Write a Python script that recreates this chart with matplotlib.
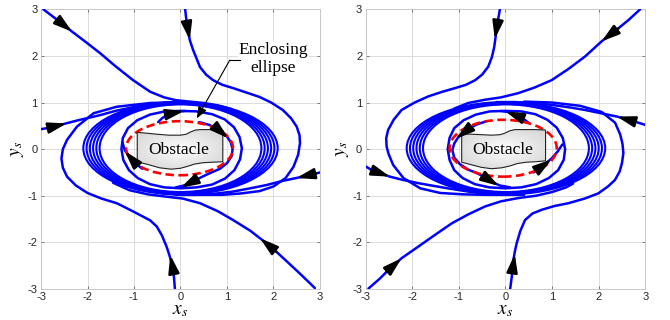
import numpy as np
import matplotlib
matplotlib.use('Agg')
import matplotlib.pyplot as plt
from matplotlib.patches import Ellipse, Polygon, FancyArrowPatch

plt.rcParams['font.family'] = ['Liberation Sans', 'DejaVu Sans']
plt.rcParams['mathtext.fontset'] = 'stix'
plt.rcParams['axes.unicode_minus'] = False

# ---------------- data ----------------
ticks = [-3, -2, -1, 0, 1, 2, 3]
tick_labels = ['-3', '-2', '-1', '0', '1', '2', '3']

# ---- left panel (clockwise flow) ----
left_A = [(-2.95, 3.0), (-2.62, 2.75), (-2.33, 2.52), (-2.0, 2.27), (-1.73, 2.06), (-1.4, 1.78),
          (-1.02, 1.48), (-0.65, 1.23), (-0.35, 1.11), (-0.1, 1.05), (0.2, 1.02), (0.5, 0.99),
          (0.8, 0.94), (1.1, 0.86)]
left_B = [(0.1, 3.0), (0.13, 2.74), (0.2, 2.34), (0.27, 2.13), (0.42, 1.76), (0.55, 1.6), (0.7, 1.48),
          (0.9, 1.38), (1.13, 1.31), (1.4, 1.22), (1.7, 1.12), (1.95, 1.0), (2.2, 0.84), (2.38, 0.66),
          (2.5, 0.48), (2.56, 0.3), (2.57, 0.13), (2.53, -0.12), (2.43, -0.38), (2.26, -0.62),
          (2.0, -0.8), (1.7, -0.9), (1.3, -0.95), (0.9, -0.98), (0.5, -0.98), (0.0, -0.98), (-0.4, -0.95)]
left_C = [(-0.12, -3.0), (-0.15, -2.63), (-0.19, -2.45), (-0.24, -2.27), (-0.3, -2.09), (-0.4, -1.85),
          (-0.51, -1.66), (-0.65, -1.53), (-0.8, -1.45), (-1.05, -1.32), (-1.37, -1.16), (-1.7, -1.06),
          (-2.0, -0.94), (-2.25, -0.78), (-2.44, -0.59), (-2.53, -0.4), (-2.56, -0.2), (-2.53, 0.0),
          (-2.44, 0.2), (-2.23, 0.48), (-1.87, 0.77), (-1.37, 0.91), (-0.65, 0.99), (0.0, 1.01)]
left_D = [(2.89, -2.98), (2.6, -2.7), (2.3, -2.42), (2.06, -2.2), (1.85, -2.02), (1.5, -1.75),
          (1.13, -1.52), (0.8, -1.33), (0.42, -1.16), (0.05, -1.06), (-0.3, -1.02), (-0.7, -0.97),
          (-1.1, -0.88), (-1.45, -0.72)]
left_E = [(-3.0, 0.43), (-2.87, 0.45), (-2.59, 0.52), (-2.2, 0.62), (-1.73, 0.73), (-1.4, 0.82),
          (-1.02, 0.9), (-0.6, 0.97), (-0.3, 1.0), (0.1, 1.01)]
left_F = [(3.0, -0.5), (2.92, -0.52), (2.63, -0.59), (2.2, -0.68), (1.85, -0.77), (1.5, -0.84),
          (1.13, -0.91), (0.7, -0.96), (0.3, -0.98), (-0.1, -0.98)]
left_I1 = [(-0.48, 0.58), (-0.4, 0.66), (-0.28, 0.74), (-0.1, 0.8), (0.1, 0.82)]
left_I2 = [(0.4, 0.58), (0.62, 0.52), (0.82, 0.42), (0.98, 0.3), (1.08, 0.15), (1.12, 0.0),
           (1.1, -0.15), (1.0, -0.3), (0.85, -0.42), (0.62, -0.52), (0.45, -0.6), (0.3, -0.68),
           (0.12, -0.77), (-0.1, -0.82)]
left_I4 = [(-0.82, -0.42), (-0.98, -0.3), (-1.1, -0.16), (-1.2, -0.02), (-1.25, 0.15)]
left_ring = [(0.0, 0.82), (0.35, 0.81), (0.68, 0.75), (0.95, 0.64), (1.15, 0.47), (1.27, 0.26),
             (1.32, 0.02), (1.28, -0.22), (1.16, -0.45), (0.96, -0.63), (0.68, -0.76), (0.35, -0.82),
             (0.0, -0.84), (-0.35, -0.82), (-0.66, -0.75), (-0.92, -0.62), (-1.11, -0.45),
             (-1.23, -0.23), (-1.27, 0.0), (-1.24, 0.24), (-1.13, 0.45), (-0.93, 0.62),
             (-0.66, 0.74), (-0.34, 0.81), (0.0, 0.82)]
left_bundle_w = [3.48, 3.62, 3.76, 3.90, 4.04, 4.18]
left_bundle_h = [1.88, 1.90, 1.92, 1.94, 1.96, 1.98]
left_bundle_c = (0.0, 0.02)
left_ell = (-0.02, 0.02, 2.3, 1.16)
left_obstacle = [(-0.93, 0.36), (-0.7, 0.34), (-0.5, 0.32), (-0.25, 0.30), (0.0, 0.30), (0.12, 0.32),
                 (0.22, 0.37), (0.32, 0.41), (0.45, 0.42), (0.7, 0.42), (0.91, 0.41),
                 (0.91, -0.27), (0.7, -0.28), (0.5, -0.29), (0.3, -0.32), (0.15, -0.37), (0.0, -0.41),
                 (-0.2, -0.43), (-0.45, -0.4), (-0.7, -0.33), (-0.93, -0.27)]
left_text = (-0.03, -0.02)
left_arrows = [((-2.62, 2.75), (-2.33, 2.52)), ((0.13, 2.74), (0.2, 2.34)),
               ((-2.87, 0.45), (-2.45, 0.55)), ((2.92, -0.52), (2.49, -0.62)),
               ((2.06, -2.2), (1.71, -1.91)), ((-0.15, -2.63), (-0.22, -2.27)),
               ((-0.28, 0.75), (0.08, 0.82)), ((0.78, 0.45), (1.03, 0.23)),
               ((-0.98, -0.29), (-1.2, -0.04)), ((0.38, -0.63), (0.0, -0.83))]

# ---- right panel (counter-clockwise flow) ----
right_G = [(-0.12, 3.0), (-0.16, 2.77), (-0.2, 2.5), (-0.24, 2.2), (-0.29, 1.98), (-0.37, 1.77),
           (-0.5, 1.6), (-0.65, 1.48), (-0.85, 1.38), (-1.08, 1.31), (-1.36, 1.23), (-1.66, 1.13),
           (-1.95, 1.0), (-2.23, 0.84), (-2.4, 0.63), (-2.52, 0.41), (-2.56, 0.23), (-2.55, 0.05),
           (-2.51, -0.1), (-2.41, -0.34), (-2.19, -0.62), (-1.83, -0.84), (-1.4, -0.94), (-0.9, -0.97),
           (-0.4, -0.98), (0.0, -0.98), (0.4, -0.96)]
right_H = [(2.89, 3.0), (2.64, 2.77), (2.42, 2.59), (2.06, 2.31), (1.71, 1.99), (1.35, 1.72),
           (0.99, 1.48), (0.62, 1.32), (0.27, 1.2), (-0.1, 1.11), (-0.44, 1.06), (-0.8, 0.99),
           (-1.1, 0.87)]
right_I = [(3.0, 0.52), (2.78, 0.59), (2.39, 0.7), (2.05, 0.77), (1.71, 0.84), (1.35, 0.9),
           (0.99, 0.95), (0.6, 0.99), (0.2, 1.01), (-0.2, 1.01)]
right_J = [(0.1, -3.0), (0.14, -2.7), (0.17, -2.38), (0.2, -2.2), (0.24, -2.02), (0.32, -1.75),
           (0.42, -1.52), (0.58, -1.38), (0.78, -1.3), (1.05, -1.22), (1.35, -1.16), (1.7, -1.06),
           (1.99, -0.95), (2.2, -0.8), (2.35, -0.66), (2.45, -0.48), (2.5, -0.3), (2.53, -0.08),
           (2.51, 0.12), (2.46, 0.32), (2.35, 0.57), (2.06, 0.8), (1.6, 0.93), (1.0, 1.0), (0.4, 1.02)]
right_K = [(-2.94, -2.99), (-2.7, -2.78), (-2.55, -2.63), (-2.23, -2.34), (-1.87, -2.09), (-1.5, -1.83),
           (-1.15, -1.59), (-0.8, -1.4), (-0.44, -1.23), (-0.1, -1.12), (0.27, -1.05), (0.65, -1.0),
           (1.0, -0.92), (1.3, -0.82), (1.45, -0.74)]
right_L = [(-3.0, -0.37), (-2.87, -0.45), (-2.48, -0.59), (-2.2, -0.66), (-1.87, -0.73), (-1.3, -0.83),
           (-0.8, -0.91), (-0.4, -0.96), (0.0, -0.98), (0.4, -0.98)]
right_I1 = [(0.5, 0.56), (0.4, 0.64), (0.28, 0.72), (0.1, 0.79), (-0.1, 0.82)]
right_I2 = [(-0.4, 0.6), (-0.62, 0.53), (-0.83, 0.41), (-1.0, 0.28), (-1.1, 0.12), (-1.14, -0.02),
            (-1.1, -0.18), (-0.98, -0.32), (-0.8, -0.44), (-0.6, -0.52), (-0.45, -0.6), (-0.3, -0.7),
            (-0.12, -0.78), (0.1, -0.82)]
right_I4 = [(0.6, -0.5), (0.8, -0.36), (0.99, -0.2), (1.12, -0.05), (1.22, 0.1)]
right_ring = [(0.0, 0.82), (0.34, 0.81), (0.64, 0.75), (0.9, 0.63), (1.1, 0.46), (1.23, 0.24),
              (1.28, 0.0), (1.25, -0.23), (1.13, -0.45), (0.93, -0.62), (0.66, -0.75), (0.34, -0.82),
              (0.0, -0.84), (-0.35, -0.82), (-0.66, -0.75), (-0.92, -0.62), (-1.1, -0.45),
              (-1.2, -0.23), (-1.24, 0.0), (-1.2, 0.24), (-1.1, 0.45), (-0.9, 0.62), (-0.64, 0.74),
              (-0.34, 0.81), (0.0, 0.82)]
right_bundle_w = [3.56, 3.70, 3.84, 3.98, 4.12, 4.26]
right_bundle_h = [1.88, 1.90, 1.92, 1.94, 1.96, 1.98]
right_bundle_c = (0.01, 0.02)
right_ell = (-0.05, 0.02, 2.3, 1.22)
right_obstacle = [(-0.94, 0.33), (-0.72, 0.32), (-0.5, 0.31), (-0.3, 0.30), (-0.12, 0.31), (-0.02, 0.34),
                  (0.08, 0.39), (0.2, 0.42), (0.4, 0.42), (0.65, 0.42), (0.86, 0.41),
                  (0.86, -0.25), (0.65, -0.27), (0.45, -0.28), (0.25, -0.31), (0.1, -0.36), (-0.08, -0.4),
                  (-0.3, -0.42), (-0.52, -0.39), (-0.75, -0.33), (-0.94, -0.28)]
right_text = (-0.07, -0.02)
right_arrows = [((-0.16, 2.77), (-0.23, 2.36)), ((2.42, 2.59), (2.06, 2.31)),
                ((2.78, 0.59), (2.39, 0.7)), ((0.38, 0.66), (0.0, 0.81)),
                ((-0.8, 0.43), (-1.06, 0.22)), ((-0.48, -0.58), (-0.14, -0.79)),
                ((0.67, -0.45), (0.99, -0.22)), ((-2.87, -0.45), (-2.48, -0.59)),
                ((-2.55, -2.63), (-2.23, -2.34)), ((0.15, -2.6), (0.2, -2.25))]

callout_text = 'Enclosing\nellipse'
callout_text_xy = (2.0, 1.93)
callout_line = [(1.28, 1.91), (1.06, 1.91)]
callout_tip = (0.35, 0.66)

BLUE = '#0000ff'
LW = 1.8
LW_RING = 1.5


def draw_panel(ax, curves, ring, bw, bh, bc, ell, obstacle, text_xy, arrows):
    for pts in curves + [ring]:
        xs = [p[0] for p in pts]
        ys = [p[1] for p in pts]
        ax.plot(xs, ys, color=BLUE, lw=LW, solid_joinstyle='round', solid_capstyle='round', zorder=3)
    for w, h in zip(bw, bh):
        ax.add_patch(Ellipse(bc, w, h, fill=False, ec=BLUE, lw=LW_RING, zorder=3))
    # obstacle with gradient
    poly = Polygon(obstacle, closed=True, fc='none', ec='#222222', lw=0.8, zorder=6)
    ax.add_patch(poly)
    oxs = [p[0] for p in obstacle]
    oys = [p[1] for p in obstacle]
    gx, gy = np.meshgrid(np.linspace(-1, 1, 80), np.linspace(-1, 1, 80))
    r = np.sqrt(0.9 * gx ** 2 + gy ** 2)
    img = 0.995 - 0.17 * np.clip(r, 0, 1.35) / 1.35
    im = ax.imshow(img, cmap='gray', vmin=0, vmax=1, origin='lower', aspect='auto',
                   extent=(min(oxs), max(oxs), min(oys), max(oys)), interpolation='bilinear', zorder=5)
    im.set_clip_path(poly)
    ax.text(text_xy[0], text_xy[1], 'Obstacle', family='Liberation Serif', fontsize=12.5,
            ha='center', va='center', zorder=7)
    # enclosing ellipse
    ax.add_patch(Ellipse((ell[0], ell[1]), ell[2], ell[3], fill=False, ec='#ff0000', lw=1.9,
                         ls=(0, (3.2, 1.7)), zorder=4))
    for tail, tip in arrows:
        ax.add_patch(FancyArrowPatch(tail, tip, arrowstyle='-|>,head_length=0.6,head_width=0.18',
                                     mutation_scale=18, color='k', lw=1.8, shrinkA=0, shrinkB=0,
                                     zorder=8))
    ax.set_xlim(-3, 3)
    ax.set_ylim(-3, 3)
    ax.set_xticks(ticks)
    ax.set_xticklabels(tick_labels)
    ax.set_yticks(ticks)
    ax.set_yticklabels(tick_labels)
    ax.grid(True, color='#dcdcdc', lw=0.7)
    ax.set_axisbelow(True)
    for s in ax.spines.values():
        s.set_color('#c8c8c8')
        s.set_linewidth(0.7)
    ax.tick_params(direction='in', length=2.5, width=0.6, color='#666666', labelsize=8,
                   labelcolor='#262626', pad=2.5, top=True, right=True)
    ax.set_xlabel(r'$x_s$', fontsize=14, labelpad=0)
    ax.set_ylabel(r'$y_s$', fontsize=14, labelpad=1)


fig = plt.figure(figsize=(6.7, 3.2), dpi=100)
axL = fig.add_axes([0.0612, 0.0969, 0.4164, 0.874])
axR = fig.add_axes([0.5458, 0.0969, 0.4173, 0.874])

draw_panel(axL, [left_A, left_B, left_C, left_D, left_E, left_F, left_I1, left_I2, left_I4],
           left_ring, left_bundle_w, left_bundle_h, left_bundle_c, left_ell, left_obstacle,
           left_text, left_arrows)
draw_panel(axR, [right_G, right_H, right_I, right_J, right_K, right_L, right_I1, right_I2, right_I4],
           right_ring, right_bundle_w, right_bundle_h, right_bundle_c, right_ell, right_obstacle,
           right_text, right_arrows)

# callout
axL.text(callout_text_xy[0], callout_text_xy[1], callout_text, family='Liberation Serif',
         fontsize=12.5, ha='center', va='center', linespacing=1.15, zorder=9,
         bbox=dict(fc='white', ec='none', pad=0.5))
axL.plot([p[0] for p in callout_line], [p[1] for p in callout_line], color='k', lw=0.8, zorder=9)
axL.add_patch(FancyArrowPatch(callout_line[-1], callout_tip, arrowstyle='-|>,head_length=0.5,head_width=0.2',
                              mutation_scale=14, color='k', lw=0.8, shrinkA=0, shrinkB=0, zorder=9))

fig.savefig('out.png', dpi=100)
